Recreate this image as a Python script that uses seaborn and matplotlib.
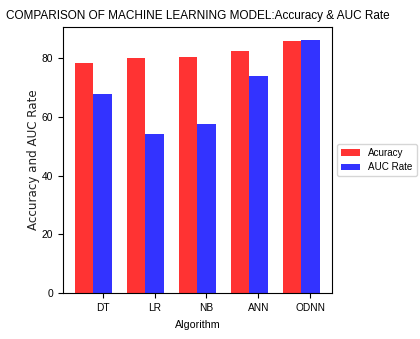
import numpy as np
import pandas as pd
import matplotlib
matplotlib.use("Agg")
import matplotlib.pyplot as plt
import seaborn as sns

#values
algorithms = ["DT", "LR", "NB", "ANN", "ODNN"]
accuracy = [78.5, 80.1, 80.4, 82.5, 85.9]
auc_rate = [67.8, 54.2, 57.6, 74.0, 86.2]
series = ["Acuracy", "AUC Rate"]

plt.rcParams["font.family"] = ["Liberation Sans", "DejaVu Sans"]

df = pd.DataFrame({
    "Algorithm": algorithms * 2,
    "value": accuracy + auc_rate,
    "metric": [series[0]] * len(algorithms) + [series[1]] * len(algorithms),
})

fig = plt.figure(figsize=(4.2, 3.39), dpi=100)
ax = fig.add_axes([0.15, 0.136, 0.64, 0.784])
sns.barplot(data=df, x="Algorithm", y="value", hue="metric", ax=ax,
            palette={series[0]: "red", series[1]: "blue"}, alpha=0.8,
            saturation=1, width=0.7, errorbar=None, linewidth=0)

#ticks sit under the second bar of each group
ax.set_xticks(np.arange(len(algorithms)) + 0.175)
ax.set_xticklabels(algorithms, fontsize=7.3)
ax.set_xlim(-0.585, 4.585)
ax.set_ylim(0, 90.6)
ax.set_yticks([0, 20, 40, 60, 80])
ax.tick_params(axis="y", labelsize=7.4)
ax.set_xlabel("Algorithm", fontsize=7.7, labelpad=5)
ax.set_ylabel("Accuracy and AUC Rate", fontsize=8.6, family="DejaVu Sans",
              labelpad=1, color="#222222")
title = ax.set_title("COMPARISON OF MACHINE LEARNING MODEL:Accuracy & AUC Rate", fontsize=9.3, pad=6)
ax.legend(loc="center left", bbox_to_anchor=(1, 0.5), fontsize=7.1)

#shrink title so it spans ~379px like the reference
r = fig.canvas.get_renderer()
w = title.get_window_extent(r).width
title.set_fontsize(9.3 * 379 / w)

fig.savefig("out.png", dpi=100)
